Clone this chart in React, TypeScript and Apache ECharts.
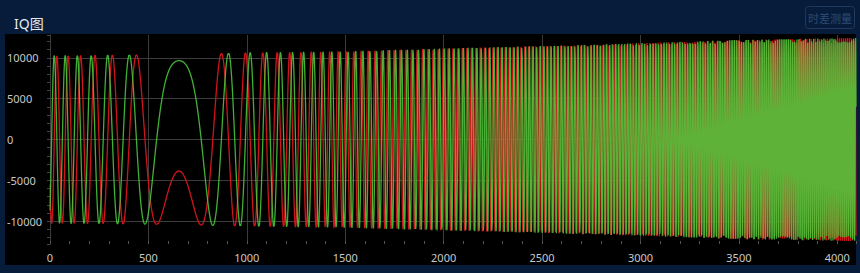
import React, { useEffect, useRef } from "react";
import * as echarts from "echarts";

// ---- values ----
const titleText = "IQ图";
const buttonText = "时差测量";
const seriesNames = ["Q", "I"]; // red, green
const sampleCount = [4096];
// linear chirp: frequency is zero at the centre sample, grows linearly on both sides
const chirpCenter = [655]; // sample where the slow arc peaks
const chirpRate = [2.96e-5]; // cycles / sample^2 (read from peak spacing)
const phaseAtCenter = [0.38]; // rad (green ≈ 9900, red ≈ -3500 at the centre)
// amplitude envelope read at a few x positions
const envelopeX = [0, 650, 1100, 1500, 2000, 2500, 3000, 3500, 4095];
const envelopeY = [10300, 10400, 10700, 10800, 11150, 11450, 11800, 12200, 12450];
const xTicks = [0, 500, 1000, 1500, 2000, 2500, 3000, 3500, 4000];
const yTicks = [-10000, -5000, 0, 5000, 10000];

function envelope(t: number): number {
  for (let i = 1; i < envelopeX.length; i++) {
    if (t <= envelopeX[i]) {
      const a = (t - envelopeX[i - 1]) / (envelopeX[i] - envelopeX[i - 1]);
      return envelopeY[i - 1] + a * (envelopeY[i] - envelopeY[i - 1]);
    }
  }
  return envelopeY[envelopeY.length - 1];
}

function buildSeries() {
  const iData: number[][] = [];
  const qData: number[][] = [];
  for (let t = 0; t < sampleCount[0]; t++) {
    const d = t - chirpCenter[0];
    const ph = Math.PI * chirpRate[0] * d * d + phaseAtCenter[0];
    const a = envelope(t);
    iData.push([t, Math.round(a * Math.cos(ph))]);
    qData.push([t, Math.round(-a * Math.sin(ph))]);
  }
  return { iData, qData };
}

export default function App() {
  const ref = useRef<HTMLDivElement>(null);
  useEffect(() => {
    if (!ref.current) return;
    const chart = echarts.init(ref.current, undefined, { renderer: "svg" });
    const { iData, qData } = buildSeries();
    const gridColor = "#3c3c3c";
    const font = "'Noto Sans', 'Noto Sans CJK SC', sans-serif";
    chart.setOption({
      animation: false,
      backgroundColor: "#061c3a",
      textStyle: { fontFamily: font },
      title: {
        text: titleText,
        left: 9,
        top: 11,
        textStyle: { color: "#e6e9ee", fontSize: 14, fontWeight: "normal", fontFamily: font },
      },
      graphic: [
        {
          type: "rect",
          z: -10,
          silent: true,
          shape: { x: 5, y: 34, width: 851, height: 231 },
          style: { fill: "#000000" },
        },
        {
          type: "rect",
          shape: { x: 805.5, y: 6.5, width: 49, height: 22, r: 3 },
          style: { fill: "transparent", stroke: "#1d3960", lineWidth: 1 },
        },
        {
          type: "text",
          x: 830,
          y: 18,
          style: {
            text: buttonText,
            fill: "#2d4b73",
            fontSize: 11,
            fontFamily: "'Noto Sans CJK SC', sans-serif",
            align: "center",
            verticalAlign: "middle",
          },
        },
      ],
      grid: { left: 50, right: 4, top: 35, bottom: 29, containLabel: false },
      xAxis: {
        type: "value",
        min: 0,
        max: sampleCount[0] - 1,
        interval: xTicks[1] - xTicks[0],
        axisLine: { show: false, onZero: false },
        axisTick: { show: true, inside: true, length: 3, lineStyle: { color: "#555" } },
        minorTick: { show: true, splitNumber: 5, length: 3, lineStyle: { color: "#555" } },
        splitLine: {
          show: true,
          lineStyle: {
            color: [...xTicks.map(() => gridColor), "transparent"],
            width: 1,
          },
        },
        axisLabel: {
          color: "#c9c9c9",
          fontSize: 11,
          margin: 8,
          showMaxLabel: false,
          fontFamily: font,
          formatter: (v: number) => String(v),
        },
      },
      yAxis: {
        type: "value",
        min: -12800,
        max: 12800,
        splitNumber: 5,
        axisLine: { show: true, onZero: false, lineStyle: { color: gridColor } },
        axisTick: { show: true, length: 3, lineStyle: { color: "#444" } },
        minorTick: { show: true, splitNumber: 5, length: 3, lineStyle: { color: "#444" } },
        splitLine: {
          show: true,
          lineStyle: {
            color: ["transparent", ...yTicks.map(() => gridColor), "transparent"],
            width: 1,
          },
        },
        axisLabel: {
          color: "#c9c9c9",
          fontSize: 11,
          align: "left",
          margin: 43,
          showMinLabel: false,
          showMaxLabel: false,
          fontFamily: font,
          formatter: (v: number) => String(v),
        },
      },
      series: [
        {
          name: seriesNames[0],
          type: "line",
          data: qData,
          showSymbol: false,
          symbol: "none",
          lineStyle: { color: "#d0141c", width: 1.3 },
          itemStyle: { color: "#d0141c" },
          clip: true,
        },
        {
          name: seriesNames[1],
          type: "line",
          data: iData,
          showSymbol: false,
          symbol: "none",
          lineStyle: { color: "#4ccd3c", width: 1.3, opacity: 0.86 },
          itemStyle: { color: "#4ccd3c" },
          clip: true,
        },
      ],
    });
    return () => chart.dispose();
  }, []);
  return (
    <div
      ref={ref}
      style={{ position: "fixed", left: 0, top: 0, width: 860, height: 273 }}
    />
  );
}
